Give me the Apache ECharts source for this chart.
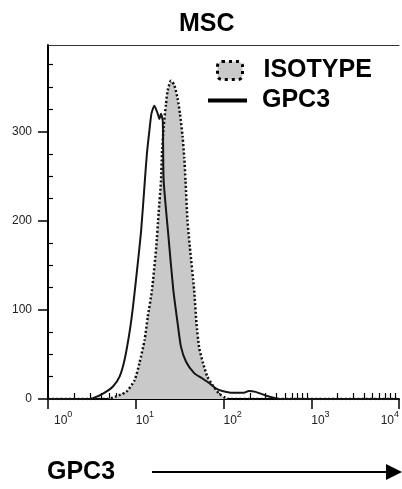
<!DOCTYPE html>
<html>
<head>
<meta charset="utf-8">
<script src="https://cdn.jsdelivr.net/npm/echarts@6/dist/echarts.min.js"></script>
<style>
html, body { margin: 0; padding: 0; background: #fff; }
#chart { width: 402px; height: 489px; }
</style>
</head>
<body>
<div id="chart"></div>
<script>
// intensity (linear units) and counts
var isoX = [1, 4.8, 6.0, 7.8, 9.7, 11.0, 12.6, 13.7, 15.3, 17.1, 18.2, 19.4, 19.9, 20.8, 22.1, 23.1, 25.2, 27.5, 30.0, 31.9, 34.2, 35.7, 36.9, 38.9, 41.4, 46.3, 49.2, 52.7, 58.6, 65.5, 74.6, 88.9, 106, 115, 10000];
var isoY = [0, 0, 3, 8, 21, 40, 66, 92, 122, 170, 208, 245, 275, 305, 331, 346, 357, 352, 337, 320, 294, 271, 245, 200, 170, 122, 85, 58, 40, 25, 16, 6, 1, 0, 0];
var gpc3X = [1, 2.5, 3.26, 4.23, 5.5, 6.54, 7.46, 8.5, 9.26, 10.1, 11.5, 12.7, 13.4, 14.3, 15.1, 16.3, 17.8, 18.6, 19.4, 20.3, 20.8, 23.5, 26.8, 30.0, 32.7, 37.3, 46.3, 57.5, 68.5, 81.6, 96.9, 126, 171, 194, 232, 301, 391, 464, 10000];
var gpc3Y = [0, 0, 1, 6, 14, 25, 44, 75, 102, 135, 188, 245, 275, 301, 320, 329, 320, 314, 320, 312, 245, 184, 122, 85, 59, 42, 29, 23, 18, 12, 9, 7, 7, 9, 8, 4, 1, 0, 0];
var decades = [0, 1, 2, 3, 4];          // exponents of 10 on the x axis
var yLabels = [0, 100, 200, 300];
var yMinor = [25, 50, 75, 125, 150, 175, 225, 250, 275, 325, 350, 375];

var FONT = "'Liberation Sans', Arial, sans-serif";

// log minor ticks 2..9 in every decade
var xMinor = [];
for (var d = 0; d < 4; d++) {
  for (var k = 2; k <= 9; k++) xMinor.push(d + Math.log10(k));
}

function toLog(xs, ys) {
  return xs.map(function (v, i) { return [Math.log10(v), ys[i]]; });
}

var myChart = echarts.init(document.getElementById('chart'));

var option = {
  animation: false,
  title: {
    text: 'MSC',
    left: 174,
    top: 7,
    textStyle: { fontFamily: FONT, fontSize: 25, fontWeight: 'bold', color: '#000' }
  },
  legend: [
    {
      left: 216, top: 58, padding: 0,
      itemWidth: 25, itemHeight: 18,
      selectedMode: false,
      data: [{
        name: 'ISOTYPE', icon: 'roundRect',
        itemStyle: { color: '#c9c9c9', borderColor: '#000', borderWidth: 3, borderType: [3, 4] }
      }],
      formatter: function (n) { return '{g|}' + n; },
      textStyle: { fontFamily: FONT, fontSize: 25, fontWeight: 'bold', color: '#000', rich: { g: { width: 16 } } }
    },
    {
      left: 208, top: 88, padding: 0,
      itemWidth: 39, itemHeight: 4,
      selectedMode: false,
      data: [{ name: 'GPC3', icon: 'rect', itemStyle: { color: '#000', borderWidth: 0 } }],
      formatter: function (n) { return '{g|}' + n; },
      textStyle: { fontFamily: FONT, fontSize: 25, fontWeight: 'bold', color: '#000', rich: { g: { width: 10 } } }
    }
  ],
  grid: { left: 48, right: 1, top: 45, bottom: 90 },
  xAxis: [
    {
      type: 'value', min: 0, max: 4,
      axisLine: { lineStyle: { color: '#000', width: 2 } },
      splitLine: { show: false },
      axisTick: { customValues: decades, length: 10, lineStyle: { color: '#000', width: 1.5 } },
      axisLabel: {
        customValues: decades,
        margin: 11,
        align: 'left',
        alignMaxLabel: 'right',
        formatter: function (v) {
          // first label sits a little right of the origin in the original
          return (v === 0 ? '{p|}' : '') + '{b|10}{s|' + v + '}';
        },
        rich: {
          p: { width: 6 },
          b: { fontFamily: FONT, fontSize: 12, color: '#222', lineHeight: 22 },
          s: { fontFamily: FONT, fontSize: 9, color: '#222', lineHeight: 9, verticalAlign: 'top' }
        }
      }
    },
    {
      type: 'value', min: 0, max: 4,
      axisLine: { show: false },
      splitLine: { show: false },
      axisLabel: { show: false },
      axisTick: { customValues: xMinor, length: 6, lineStyle: { color: '#000', width: 1.2 } }
    },
    {
      type: 'value', min: 0, max: 4, position: 'top',
      axisLine: { lineStyle: { color: '#333', width: 1 } },
      splitLine: { show: false },
      axisLabel: { show: false },
      axisTick: { show: false }
    }
  ],
  yAxis: [
    {
      type: 'value', min: 0, max: 397,
      axisLine: { show: true, lineStyle: { color: '#000', width: 2 } },
      splitLine: { show: false },
      axisTick: { show: true, customValues: yLabels, length: 10, lineStyle: { color: '#000', width: 1.5 } },
      axisLabel: {
        customValues: yLabels,
        margin: 16,
        fontFamily: FONT, fontSize: 12, color: '#222'
      }
    },
    {
      type: 'value', min: 0, max: 397,
      axisLine: { show: false },
      splitLine: { show: false },
      axisLabel: { show: false },
      axisTick: { show: true, customValues: yMinor, length: 5, lineStyle: { color: '#000', width: 1.2 } }
    }
  ],
  series: [
    {
      name: 'ISOTYPE',
      type: 'line',
      data: toLog(isoX, isoY),
      symbol: 'none',
      smooth: 0.2,
      color: '#c9c9c9',
      lineStyle: { color: '#111', width: 2.5, type: [2, 2.2] },
      areaStyle: { color: '#c9c9c9', opacity: 1 },
      z: 2
    },
    {
      name: 'GPC3',
      type: 'line',
      data: toLog(gpc3X, gpc3Y),
      symbol: 'none',
      smooth: 0.2,
      color: '#000',
      lineStyle: { color: '#151515', width: 2 },
      z: 3
    }
  ],
  graphic: [
    {
      type: 'text', left: 47, top: 460,
      style: { text: 'GPC3', fontFamily: FONT, fontSize: 25, fontWeight: 'bold', fill: '#000' }
    },
    {
      type: 'line',
      shape: { x1: 152, y1: 472, x2: 390, y2: 472 },
      style: { stroke: '#000', lineWidth: 2 }
    },
    {
      type: 'polygon',
      shape: { points: [[386, 464], [402, 472], [386, 480]] },
      style: { fill: '#000' }
    }
  ]
};

myChart.setOption(option);
</script>
</body>
</html>
